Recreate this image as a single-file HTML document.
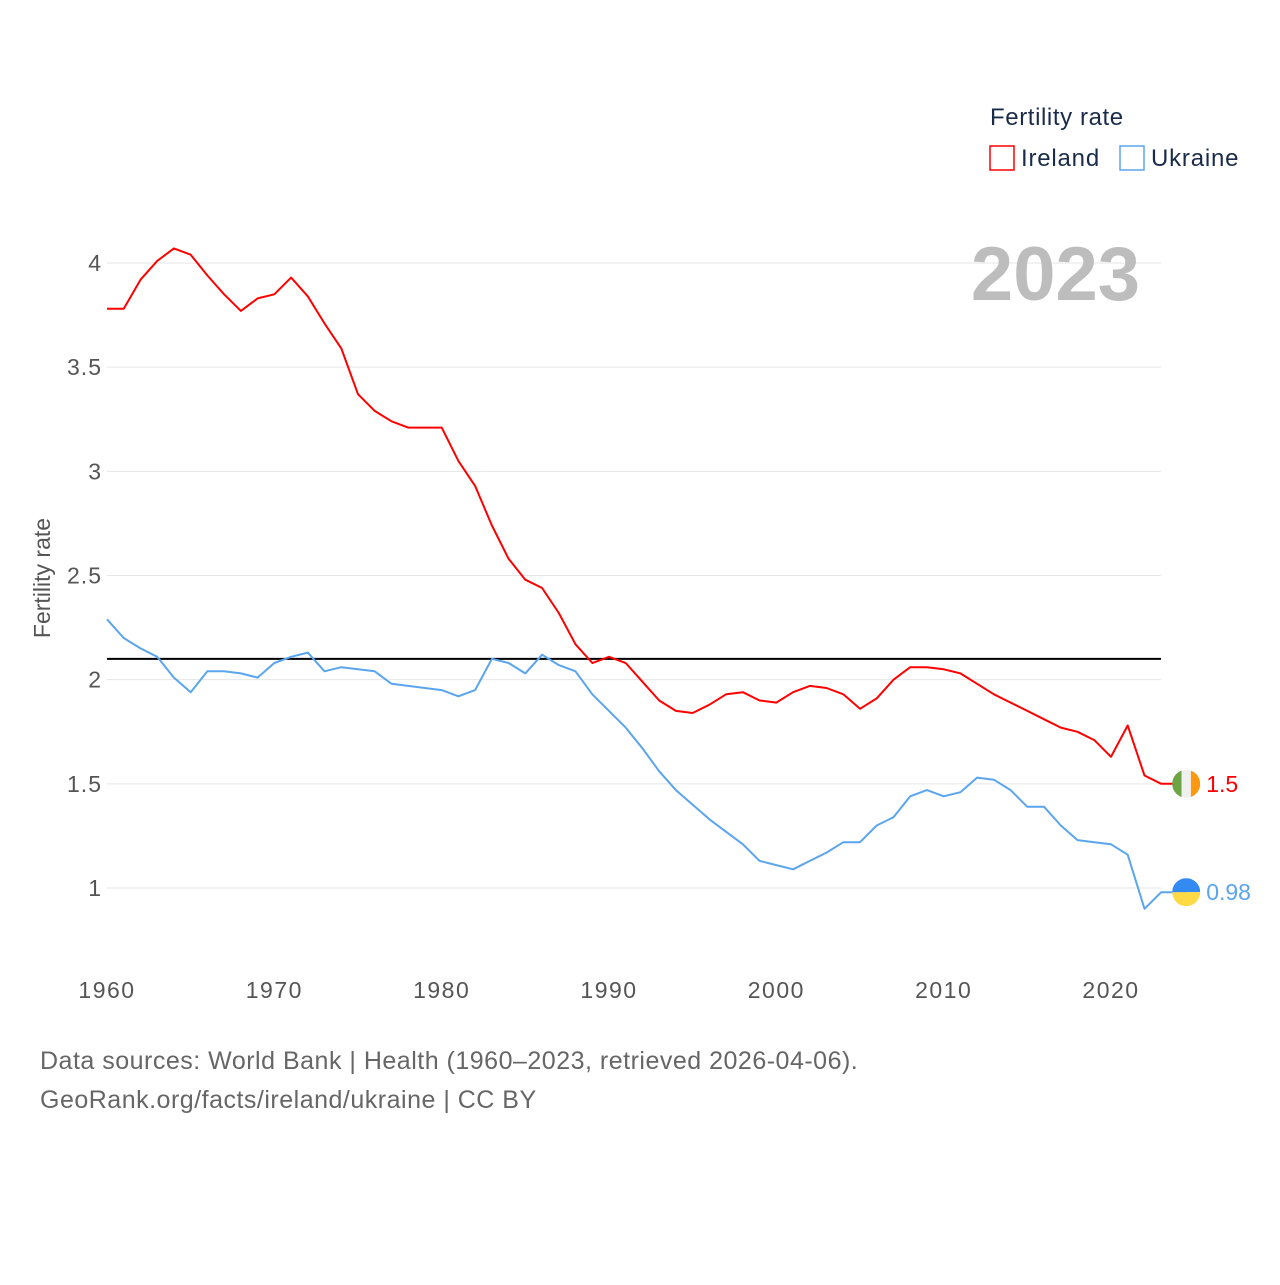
<!DOCTYPE html>
<html><head><meta charset="utf-8">
<style>
html,body{margin:0;padding:0;background:#fff;}
body{width:1280px;height:1280px;overflow:hidden;font-family:"Liberation Sans",sans-serif;}
svg text{font-family:"Liberation Sans",sans-serif;}
</style></head>
<body>
<svg id="chart" width="1280" height="1280" viewBox="0 0 1280 1280">
  <g id="grid"></g>
  <g id="yticks"></g>
  <g id="xticks"></g>
  <text transform="translate(50,578) rotate(-90)" text-anchor="middle" font-size="23" fill="#555">Fertility rate</text>
  <text x="1140" y="300" text-anchor="end" font-size="76" font-weight="bold" fill="#bdbdbd">2023</text>
  <g>
    <text x="990" y="125" font-size="24" letter-spacing="0.6" fill="#1a2b4a">Fertility rate</text>
    <rect x="990" y="146" width="24" height="24" fill="none" stroke="#f00" stroke-width="1.5"/>
    <text x="1021" y="166" font-size="24" letter-spacing="0.8" fill="#1a2b4a">Ireland</text>
    <rect x="1120" y="146" width="24" height="24" fill="none" stroke="#5aa5ee" stroke-width="1.5"/>
    <text x="1151" y="166" font-size="24" letter-spacing="0.8" fill="#1a2b4a">Ukraine</text>
  </g>
  <g id="series"></g>
  <text x="40" y="1069" font-size="25" letter-spacing="0.5" fill="#666">Data sources: World Bank | Health (1960–2023, retrieved 2026-04-06).</text>
  <text x="40" y="1108" font-size="25" letter-spacing="0.5" fill="#666">GeoRank.org/facts/ireland/ukraine | CC BY</text>
</svg>
<script>
const years = [];
for (let y = 1960; y <= 2023; y++) years.push(y);
const ireland = [3.78,3.78,3.92,4.01,4.07,4.04,3.94,3.85,3.77,3.83,3.85,3.93,3.84,3.71,3.59,3.37,3.29,3.24,3.21,3.21,3.21,3.05,2.93,2.74,2.58,2.48,2.44,2.32,2.17,2.08,2.11,2.08,1.99,1.90,1.85,1.84,1.88,1.93,1.94,1.90,1.89,1.94,1.97,1.96,1.93,1.86,1.91,2.00,2.06,2.06,2.05,2.03,1.98,1.93,1.89,1.85,1.81,1.77,1.75,1.71,1.63,1.78,1.54,1.50];
const ukraine = [2.29,2.20,2.15,2.11,2.01,1.94,2.04,2.04,2.03,2.01,2.08,2.11,2.13,2.04,2.06,2.05,2.04,1.98,1.97,1.96,1.95,1.92,1.95,2.10,2.08,2.03,2.12,2.07,2.04,1.93,1.85,1.77,1.67,1.56,1.47,1.40,1.33,1.27,1.21,1.13,1.11,1.09,1.13,1.17,1.22,1.22,1.30,1.34,1.44,1.47,1.44,1.46,1.53,1.52,1.47,1.39,1.39,1.30,1.23,1.22,1.21,1.16,0.90,0.98];
const yTicks = [1, 1.5, 2, 2.5, 3, 3.5, 4];
const xTicks = [1960, 1970, 1980, 1990, 2000, 2010, 2020];
const replacement = 2.1;

const NS = "http://www.w3.org/2000/svg";
const X0 = 107, X1 = 1161;
function xs(yr){ return 107 + (yr - 1960) * (1004/60); }
function ys(v){ return 888 - (v - 1) * (625/3); }
function mk(tag, attrs, parent){
  const e = document.createElementNS(NS, tag);
  for (const k in attrs) e.setAttribute(k, attrs[k]);
  parent.appendChild(e); return e;
}
const grid = document.getElementById('grid');
const yt = document.getElementById('yticks');
const xt = document.getElementById('xticks');
const series = document.getElementById('series');

yTicks.forEach(v => {
  const l = mk('line', {x1:X0, x2:X1, y1:ys(v), y2:ys(v), stroke:'#e6e6e6', 'stroke-width':1}, grid);
  
  
  const t = mk('text', {x:102, y:ys(v)+8, 'text-anchor':'end', 'font-size':23, 'letter-spacing':1, fill:'#555'}, yt);
  t.textContent = String(v);
  
  
});
xTicks.forEach(v => {
  const t = mk('text', {x:xs(v), y:998, 'text-anchor':'middle', 'font-size':23, 'letter-spacing':1.5, fill:'#555'}, xt);
  t.textContent = String(v);
  
  
});
const ref = mk('line', {x1:X0, x2:X1, y1:ys(replacement), y2:ys(replacement), stroke:'#000', 'stroke-width':2}, series);



const last = years.length - 1;
const cx = xs(years[last]) + 25;
function drawLine(vals, color, name){
  let d = vals.map((v,i)=>(i?'L':'M')+xs(years[i]).toFixed(1)+','+ys(v).toFixed(1)).join(' ');
  d += ' L' + cx.toFixed(1) + ',' + ys(vals[last]).toFixed(1);
  const p = mk('path', {d:d, fill:'none', stroke:color, 'stroke-width':2, 'stroke-linejoin':'round'}, series);
  
  
}
drawLine(ukraine, '#5aa5ee', 'ukraine-line');
drawLine(ireland, '#f00', 'ireland-line');

const iy = ys(ireland[last]);
const defs = mk('defs', {}, series);
const cp1 = mk('clipPath', {id:'clipIe'}, defs);
mk('circle', {cx:cx, cy:iy, r:14}, cp1);
const gIe = mk('g', {'clip-path':'url(#clipIe)'}, series);


mk('rect', {x:cx-14, y:iy-14, width:9.4, height:28, fill:'#6da544'}, gIe);
mk('rect', {x:cx-4.7, y:iy-14, width:9.4, height:28, fill:'#f0f0f0'}, gIe);
mk('rect', {x:cx+4.7, y:iy-14, width:9.4, height:28, fill:'#ff9811'}, gIe);
const tIe = mk('text', {x:cx+20, y:iy+8, 'font-size':23, fill:'#f00'}, series);
tIe.textContent = String(ireland[last]);



const uy = ys(ukraine[last]);
const cp2 = mk('clipPath', {id:'clipUa'}, defs);
mk('circle', {cx:cx, cy:uy, r:14}, cp2);
const gUa = mk('g', {'clip-path':'url(#clipUa)'}, series);


mk('rect', {x:cx-14, y:uy-14, width:28, height:14, fill:'#338af3'}, gUa);
mk('rect', {x:cx-14, y:uy, width:28, height:14, fill:'#ffda44'}, gUa);
const tUa = mk('text', {x:cx+20, y:uy+8, 'font-size':23, fill:'#5aa5ee'}, series);
tUa.textContent = String(ukraine[last]);


</script>
</body></html>
